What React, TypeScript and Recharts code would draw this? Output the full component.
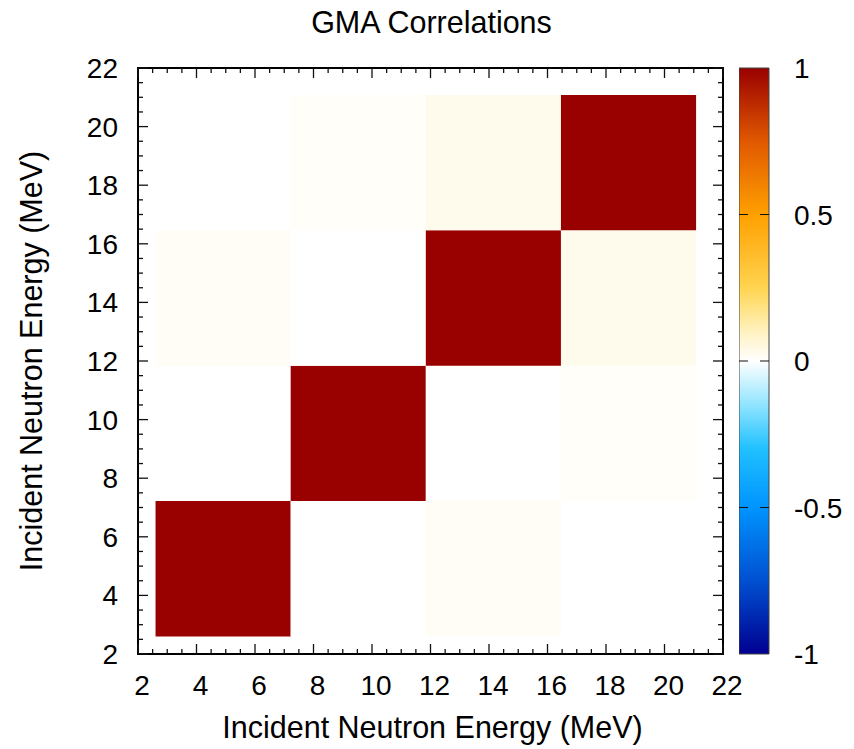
import React from 'react';
import { ScatterChart, Scatter, XAxis, YAxis, ReferenceArea } from 'recharts';

// ---------------- data ----------------
const binEdges = [2.6, 7.22, 11.84, 16.46, 21.08]; // MeV, shared by x and y
// correlation rows, bottom (lowest y bin) to top; columns left to right
const row1 = [1, 0, 0.015, 0];
const row2 = [0, 1, 0, 0.01];
const row3 = [0.015, 0, 1, 0.03];
const row4 = [0, 0.01, 0.03, 1];
const correlationRows = [row1, row2, row3, row4];

const majorTicks = [2, 4, 6, 8, 10, 12, 14, 16, 18, 20, 22];
const colorbarTicks = [-1, -0.5, 0, 0.5, 1];

const titleText = 'GMA Correlations';
const axisTitle = 'Incident Neutron Energy (MeV)';

// ---------------- style ----------------
const FONT = '"Liberation Sans", Arial, Helvetica, sans-serif';
const TICK_FS = 28;
const LABEL_FS = 30.5;
const TICK_STROKE = '#111';

const paletteStops: [number, string][] = [
  [-1, '#000090'],
  [-0.75, '#0050d0'],
  [-0.5, '#0094ff'],
  [-0.3, '#20c0ff'],
  [-0.15, '#90e4ff'],
  [0, '#ffffff'],
  [0.1, '#fff2c0'],
  [0.25, '#ffd450'],
  [0.5, '#ffa000'],
  [0.75, '#e05800'],
  [1, '#990000'],
];

function hexToRgb(h: string) {
  const n = parseInt(h.slice(1), 16);
  return [(n >> 16) & 255, (n >> 8) & 255, n & 255];
}
function paletteColor(v: number) {
  const c = Math.max(-1, Math.min(1, v));
  for (let i = 0; i < paletteStops.length - 1; i++) {
    const [v0, h0] = paletteStops[i];
    const [v1, h1] = paletteStops[i + 1];
    if (c >= v0 && c <= v1) {
      const t = (c - v0) / (v1 - v0);
      const a = hexToRgb(h0);
      const b = hexToRgb(h1);
      const r = a.map((x, k) => Math.round(x + (b[k] - x) * t));
      return `rgb(${r[0]},${r[1]},${r[2]})`;
    }
  }
  return paletteStops[paletteStops.length - 1][1];
}

// all tick positions: majors plus three minors between each pair
const allTicks: number[] = [];
majorTicks.forEach((m, i) => {
  allTicks.push(m);
  if (i < majorTicks.length - 1) {
    const step = (majorTicks[i + 1] - m) / 4;
    allTicks.push(m + step, m + 2 * step, m + 3 * step);
  }
});
const isMajor = (v: number) => majorTicks.includes(v);

const cells: { x1: number; x2: number; y1: number; y2: number; cx: number; cy: number; v: number }[] = [];
correlationRows.forEach((row, j) => {
  row.forEach((v, i) => {
    cells.push({
      x1: binEdges[i],
      x2: binEdges[i + 1],
      y1: binEdges[j],
      y2: binEdges[j + 1],
      cx: (binEdges[i] + binEdges[i + 1]) / 2,
      cy: (binEdges[j] + binEdges[j + 1]) / 2,
      v,
    });
  });
});
const colorbarAnchor = colorbarTicks.map((t) => ({ cx: 0.5, cy: t }));

// ---------------- layout ----------------
const W = 854;
const H = 749;
const PLOT_LEFT = 138;
const PLOT_TOP = 68;
const PLOT_RIGHT = 723;
const PLOT_BOTTOM = 654;
const CB_LEFT = 739;
const CB_WIDTH = 30;

const MAJOR_LEN = 10;
const MINOR_LEN = 5;

// ---------------- ticks ----------------
const BottomTick = (p: any) => {
  const { x, y, payload } = p;
  const v = payload.value;
  const major = isMajor(v);
  return (
    <g>
      <line x1={x} x2={x} y1={y} y2={y - (major ? MAJOR_LEN : MINOR_LEN)} stroke={TICK_STROKE} strokeWidth={1.3} />
      {major && (
        <text x={x + 4} y={y + 41} textAnchor="middle" fontSize={TICK_FS} fontFamily={FONT} fill="#000">
          {v}
        </text>
      )}
    </g>
  );
};
const TopTick = (p: any) => {
  const { x, y, payload } = p;
  const major = isMajor(payload.value);
  return <line x1={x} x2={x} y1={y} y2={y + (major ? MAJOR_LEN : MINOR_LEN)} stroke={TICK_STROKE} strokeWidth={1.3} />;
};
const LeftTick = (p: any) => {
  const { x, y, payload } = p;
  const v = payload.value;
  const major = isMajor(v);
  return (
    <g>
      <line x1={x} x2={x + (major ? MAJOR_LEN : MINOR_LEN)} y1={y} y2={y} stroke={TICK_STROKE} strokeWidth={1.3} />
      {major && (
        <text x={x - 20} y={y + 10} textAnchor="end" fontSize={TICK_FS} fontFamily={FONT} fill="#000">
          {v}
        </text>
      )}
    </g>
  );
};
const RightTick = (p: any) => {
  const { x, y, payload } = p;
  const major = isMajor(payload.value);
  return <line x1={x} x2={x - (major ? MAJOR_LEN : MINOR_LEN)} y1={y} y2={y} stroke={TICK_STROKE} strokeWidth={1.3} />;
};

const ColorbarTick = (p: any) => {
  const { x, y, payload } = p;
  const v = payload.value;
  const inner = v > -1 && v < 1;
  return (
    <g>
      {inner && <line x1={x - CB_WIDTH} x2={x - CB_WIDTH + 9} y1={y} y2={y} stroke="#111" strokeWidth={1} />}
      {inner && <line x1={x} x2={x - 9} y1={y} y2={y} stroke="#111" strokeWidth={1} />}
      <text x={x + 25} y={y + 10} textAnchor="start" fontSize={TICK_FS} fontFamily={FONT} fill="#000">
        {v}
      </text>
    </g>
  );
};

const TitleLabel = () => (
  <text x={431.5} y={33} textAnchor="middle" fontSize={LABEL_FS} fontFamily={FONT} fill="#000">
    {titleText}
  </text>
);
const XLabel = () => (
  <text x={(PLOT_LEFT + PLOT_RIGHT) / 2 + 2} y={738} textAnchor="middle" fontSize={LABEL_FS} fontFamily={FONT} fill="#000">
    {axisTitle}
  </text>
);
const YLabel = () => (
  <text
    transform={`translate(42, ${(PLOT_TOP + PLOT_BOTTOM) / 2}) rotate(-90)`}
    x={0}
    y={0}
    textAnchor="middle"
    fontSize={LABEL_FS}
    fontFamily={FONT}
    fill="#000"
  >
    {axisTitle}
  </text>
);

const NoShape = () => <g />;

export default function App() {
  return (
    <div style={{ position: 'absolute', left: 0, top: 0, width: W, height: H, background: '#fff' }}>
      <svg width={0} height={0} style={{ position: 'absolute' }}>
        <defs>
          <linearGradient id="cbgrad" x1="0" y1="0" x2="0" y2="1">
            {[...paletteStops].reverse().map(([v, c]) => (
              <stop key={v} offset={`${((1 - v) / 2) * 100}%`} stopColor={c} />
            ))}
          </linearGradient>
        </defs>
      </svg>
      <div style={{ position: 'absolute', left: 0, top: 0 }}>
        <ScatterChart
          width={W}
          height={H}
          margin={{ top: 0, right: W - PLOT_RIGHT - 10, bottom: 0, left: 0 }}
        >
          <XAxis
            xAxisId="b"
            dataKey="cx"
            type="number"
            orientation="bottom"
            domain={[2, 22]}
            ticks={allTicks}
            interval={0}
            height={H - PLOT_BOTTOM}
            tickSize={0}
            tickMargin={0}
            tickLine={false}
            axisLine={false}
            tick={BottomTick}
            allowDataOverflow
            label={<XLabel />}
          />
          <XAxis
            xAxisId="t"
            dataKey="cx"
            type="number"
            orientation="top"
            domain={[2, 22]}
            ticks={allTicks}
            interval={0}
            height={PLOT_TOP}
            tickSize={0}
            tickMargin={0}
            tickLine={false}
            axisLine={false}
            tick={TopTick}
            allowDataOverflow
            label={<TitleLabel />}
          />
          <YAxis
            yAxisId="l"
            dataKey="cy"
            type="number"
            orientation="left"
            domain={[2, 22]}
            ticks={allTicks}
            interval={0}
            width={PLOT_LEFT}
            tickSize={0}
            tickMargin={0}
            tickLine={false}
            axisLine={false}
            tick={LeftTick}
            allowDataOverflow
            label={<YLabel />}
          />
          <YAxis
            yAxisId="r"
            dataKey="cy"
            type="number"
            orientation="right"
            domain={[2, 22]}
            ticks={allTicks}
            interval={0}
            width={10}
            tickSize={0}
            tickMargin={0}
            tickLine={false}
            axisLine={false}
            tick={RightTick}
            allowDataOverflow
          />
          <Scatter data={cells} xAxisId="b" yAxisId="l" shape={NoShape} isAnimationActive={false} />
          <Scatter data={cells} xAxisId="t" yAxisId="r" shape={NoShape} isAnimationActive={false} />
          {cells.map((c, k) => (
            <ReferenceArea
              key={k}
              xAxisId="b"
              yAxisId="l"
              x1={c.x1}
              x2={c.x2}
              y1={c.y1}
              y2={c.y2}
              fill={paletteColor(c.v)}
              fillOpacity={1}
              stroke="none"
              ifOverflow="visible"
            />
          ))}
          <ReferenceArea
            xAxisId="b"
            yAxisId="l"
            x1={2}
            x2={22}
            y1={2}
            y2={22}
            fill="none"
            fillOpacity={0}
            stroke="#000"
            strokeWidth={2}
            ifOverflow="visible"
          />
        </ScatterChart>
      </div>
      <div style={{ position: 'absolute', left: CB_LEFT, top: 0 }}>
        <ScatterChart
          width={W - CB_LEFT}
          height={H}
          margin={{ top: PLOT_TOP, right: 0, bottom: H - PLOT_BOTTOM, left: 0 }}
        >
          <XAxis xAxisId="cb" dataKey="cx" type="number" domain={[0, 1]} hide allowDataOverflow />
          <YAxis
            yAxisId="cb"
            dataKey="cy"
            type="number"
            orientation="right"
            domain={[-1, 1]}
            ticks={colorbarTicks}
            interval={0}
            width={W - CB_LEFT - CB_WIDTH}
            tickSize={0}
            tickMargin={0}
            tickLine={false}
            axisLine={false}
            tick={ColorbarTick}
            allowDataOverflow
          />
          <Scatter data={colorbarAnchor} xAxisId="cb" yAxisId="cb" shape={NoShape} isAnimationActive={false} />
          <ReferenceArea
            xAxisId="cb"
            yAxisId="cb"
            x1={0}
            x2={1}
            y1={-1}
            y2={1}
            fill="url(#cbgrad)"
            fillOpacity={1}
            stroke="#444"
            strokeWidth={1}
            ifOverflow="visible"
          />
        </ScatterChart>
      </div>
    </div>
  );
}
